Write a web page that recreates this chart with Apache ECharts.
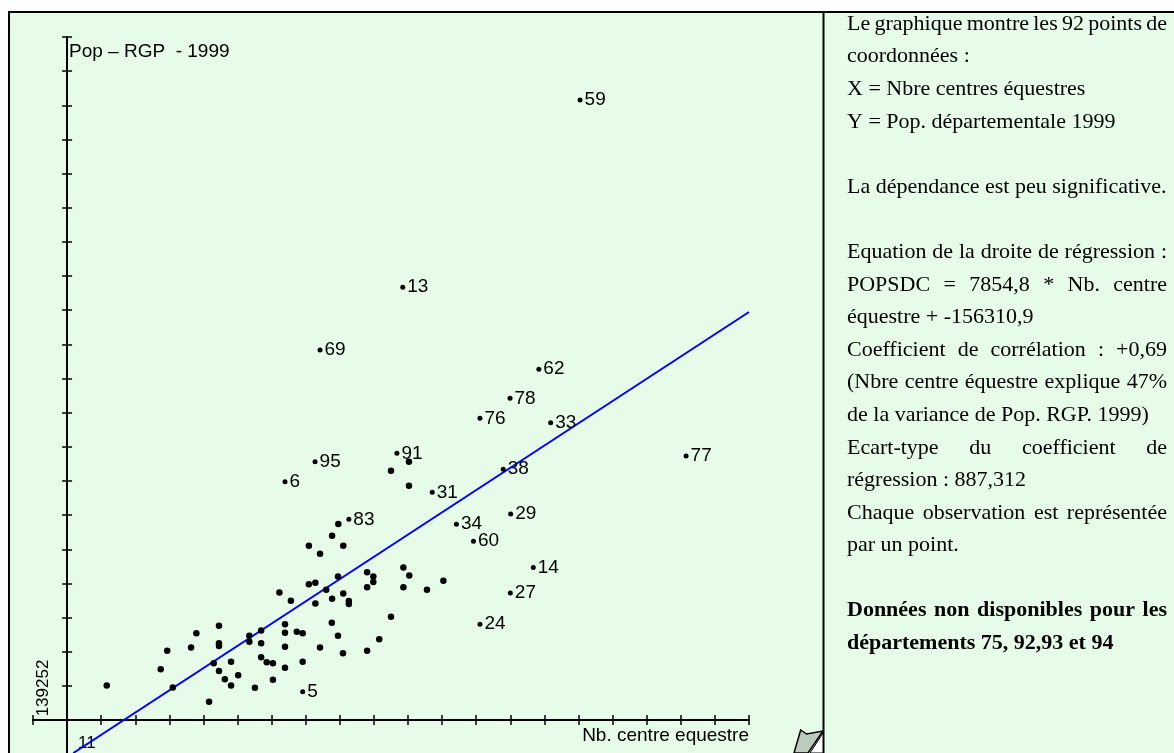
<!DOCTYPE html>
<html>
<head>
<meta charset="UTF-8">
<title>Pop RGP 1999 - centres equestres</title>
<script src="https://cdn.jsdelivr.net/npm/echarts@6/dist/echarts.min.js"></script>
<style>
	html, body { margin: 0; padding: 0; background: #fff; }
	#main { width: 1174px; height: 753px; }
</style>
</head>
<body>
<div id="main"></div>
<script type="text/javascript">
// departements etiquetes sur le graphique
var deptNames = ['59', '13', '69', '62', '78', '76', '33', '77', '91', '95', '38', '6', '31', '83', '29', '34', '60', '14', '27', '24', '5'];
var deptX = [176.5, 119.3, 92.6, 163.2, 153.9, 144.2, 167.0, 210.7, 117.4, 91.0, 151.7, 81.3, 128.8, 101.9, 154.1, 136.6, 142.1, 161.4, 154.0, 144.2, 87.0];
var deptY = [2551000, 1823000, 1579000, 1504000, 1391000, 1313000, 1296000, 1166000, 1177000, 1144000, 1115000, 1066000, 1025000, 920000, 941000, 901000, 835000, 733000, 633000, 512000, 249000];

// les autres departements (sans etiquette)
var otherX = [121.3, 115.5, 121.3, 98.5, 96.5, 89.0, 100.1, 92.6, 119.5, 107.8,
	109.8, 121.4, 98.4, 109.8, 132.4, 91.1, 89.0, 107.8, 119.5, 127.1,
	94.6, 79.5, 83.2, 100.1, 96.5, 101.9, 101.9, 91.1, 115.5, 23.8,
	45.1, 56.8, 41.2, 43.3, 52.7, 51.0, 60.0, 60.0, 60.0, 58.3,
	60.0, 61.9, 63.9, 63.9, 66.2, 69.8, 69.8, 73.6, 73.6, 73.6,
	75.4, 77.4, 71.6, 77.4, 81.3, 81.3, 81.3, 81.3, 85.1, 87.0,
	87.0, 96.4, 92.6, 98.4, 100.0, 107.8, 111.7];
var otherY = [1144000, 1109000, 1051000, 902000, 856000, 817000, 817000, 786000, 733000, 714000,
	698000, 701000, 698000, 676000, 681000, 673000, 667000, 656000, 656000, 646000,
	646000, 635000, 603000, 631000, 611000, 602000, 591000, 593000, 541000, 273000,
	266000, 210000, 337000, 409000, 477000, 421000, 506000, 438000, 427000, 360000,
	330000, 298000, 273000, 366000, 313000, 467000, 444000, 487000, 438000, 383000,
	364000, 360000, 265000, 296000, 343000, 424000, 479000, 512000, 483000, 477000,
	366000, 518000, 421000, 467000, 399000, 409000, 453000];

// droite de regression (extremites)
var regX = [13.0, 231];
var regY = [10860, 1726658];

// axes
var xOrigin = 11;
var yOrigin = 139252;
var xMin = 0, xMax = 231, xStep = 11;
var yMin = 10860, yMax = 2796592;
var yTicks = [139252, 272119, 404986, 537853, 670720, 803587, 936454, 1069321, 1202188, 1335055,
	1467922, 1600789, 1733656, 1866523, 1999390, 2132257, 2265124, 2397991, 2530858, 2663725, 2796592];

// texte du panneau de droite (null = ligne vide)
var panelLines = [
	{ t: 'Le graphique montre les 92 points de', j: true },
	{ t: 'coordonnées :' },
	{ t: 'X = Nbre centres équestres' },
	{ t: 'Y = Pop. départementale 1999' },
	null,
	{ t: 'La dépendance est peu significative.' },
	null,
	{ t: 'Equation de la droite de régression :', j: true },
	{ t: 'POPSDC = 7854,8 * Nb. centre', j: true },
	{ t: 'équestre + -156310,9' },
	{ t: 'Coefficient de corrélation : +0,69', j: true },
	{ t: '(Nbre centre équestre explique 47%', j: true },
	{ t: 'de la variance de Pop. RGP. 1999)' },
	{ t: 'Ecart-type du coefficient de', j: true },
	{ t: 'régression : 887,312' },
	{ t: 'Chaque observation est représentée', j: true },
	{ t: 'par un point.' },
	null,
	{ t: 'Données non disponibles pour les', j: true, b: true },
	{ t: 'départements 75, 92,93 et 94', b: true }
];

var labelFont = 'Liberation Sans';
var panelFont = 'Liberation Serif';
var panelLeft = 847, panelRight = 1167, panelTop = 24, panelStep = 32.6;

var measureCtx = document.createElement('canvas').getContext('2d');
function panelText(line, y) {
	var weight = line.b ? 'bold' : 'normal';
	var base = { fill: '#000', fontSize: 22, fontFamily: panelFont, fontWeight: weight, verticalAlign: 'middle', align: 'left' };
	if (!line.j) {
		return [{ type: 'text', x: panelLeft, y: y, silent: true, style: Object.assign({ text: line.t }, base) }];
	}
	// ligne justifiee : on repartit l'espace entre les mots
	measureCtx.font = weight + ' 22px "' + panelFont + '"';
	var words = line.t.split(' ');
	var widths = words.map(function (w) { return measureCtx.measureText(w).width; });
	var sum = widths.reduce(function (a, b) { return a + b; }, 0);
	var gap = (panelRight - panelLeft - sum) / (words.length - 1);
	var x = panelLeft, out = [];
	words.forEach(function (w, i) {
		out.push({ type: 'text', x: x, y: y, silent: true, style: Object.assign({ text: w }, base) });
		x += widths[i] + gap;
	});
	return out;
}

var deptData = deptNames.map(function (n, i) { return { name: n, value: [deptX[i], deptY[i]] }; });
var otherData = otherX.map(function (x, i) { return [x, otherY[i]]; });
var regData = regX.map(function (x, i) { return [x, regY[i]]; });

var graphics = [
	// fond et cadre
	{ type: 'rect', z: -10, silent: true, shape: { x: 9, y: 12, width: 1200, height: 800 },
		style: { fill: '#E6FCE8', stroke: '#000', lineWidth: 2 } },
	{ type: 'line', z: 50, silent: true, shape: { x1: 823.5, y1: 12, x2: 823.5, y2: 760 },
		style: { stroke: '#000', lineWidth: 2 } },
	// coin replie
	{ type: 'polygon', z: 60, silent: true,
		shape: { points: [[800.7, 730], [806.7, 734], [823, 731], [808, 753], [794, 753]] },
		style: { fill: '#BCCBBC', stroke: '#000', lineWidth: 1.5 } },
	{ type: 'polygon', z: 60, silent: true,
		shape: { points: [[823, 733], [823, 753], [810, 753]] },
		style: { fill: '#fff', stroke: '#000', lineWidth: 1 } },
	// titres des axes
	{ type: 'text', x: 69, y: 52, silent: true,
		style: { text: 'Pop \u2013 RGP  - 1999', fill: '#000', fontSize: 19, fontFamily: labelFont, verticalAlign: 'middle' } },
	{ type: 'text', x: 749, y: 736, silent: true,
		style: { text: 'Nb. centre equestre', fill: '#000', fontSize: 19, fontFamily: labelFont, align: 'right', verticalAlign: 'middle' } },
	// valeurs a l'origine
	{ type: 'text', x: 78, y: 743, silent: true,
		style: { text: String(xOrigin), fill: '#000', fontSize: 17, fontFamily: labelFont, verticalAlign: 'middle' } },
	{ type: 'text', x: 43, y: 688, rotation: Math.PI / 2, silent: true,
		style: { text: String(yOrigin), fill: '#000', fontSize: 17, fontFamily: labelFont, align: 'center', verticalAlign: 'middle' } }
];
panelLines.forEach(function (l, i) {
	if (l) graphics = graphics.concat(panelText(l, panelTop + i * panelStep));
});

function xAxisDef(inside) {
	return {
		type: 'value', position: 'bottom', min: xMin, max: xMax, interval: xStep, offset: -33,
		axisLine: { show: true, onZero: false, lineStyle: { color: '#000', width: 2 } },
		axisTick: { show: true, inside: inside, length: 5, lineStyle: { color: '#000', width: 1.5 } },
		axisLabel: { show: false }, splitLine: { show: false }
	};
}
function yAxisDef(inside) {
	return {
		type: 'value', position: 'left', min: yMin, max: yMax, offset: -34.1,
		axisLine: { show: true, onZero: false, lineStyle: { color: '#000', width: 2 } },
		axisTick: { show: true, inside: inside, length: 5, customValues: yTicks, lineStyle: { color: '#000', width: 1.5 } },
		axisLabel: { show: false }, splitLine: { show: false }
	};
}

var chart = echarts.init(document.getElementById('main'));
var option = {
	animation: false,
	backgroundColor: '#fff',
	grid: { left: 33, right: 425, top: 37, bottom: 0, outerBoundsMode: 'none' },
	xAxis: [xAxisDef(false), xAxisDef(true)],
	yAxis: [yAxisDef(false), yAxisDef(true)],
	graphic: graphics,
	series: [
		{
			name: 'regression', type: 'line', data: regData, symbol: 'none', silent: true, z: 1,
			lineStyle: { color: '#0000FF', width: 2 }
		},
		{
			name: 'autres', type: 'scatter', data: otherData, symbolSize: 6.5, silent: true, z: 3,
			itemStyle: { color: '#000', opacity: 1 }
		},
		{
			name: 'departements', type: 'scatter', data: deptData, symbolSize: 5, silent: true, z: 3,
			itemStyle: { color: '#000', opacity: 1 },
			label: {
				show: true, position: 'right', distance: 2, formatter: '{b}',
				color: '#000', fontSize: 19, fontFamily: labelFont, textBorderWidth: 0
			}
		}
	]
};
chart.setOption(option);
</script>
</body>
</html>
